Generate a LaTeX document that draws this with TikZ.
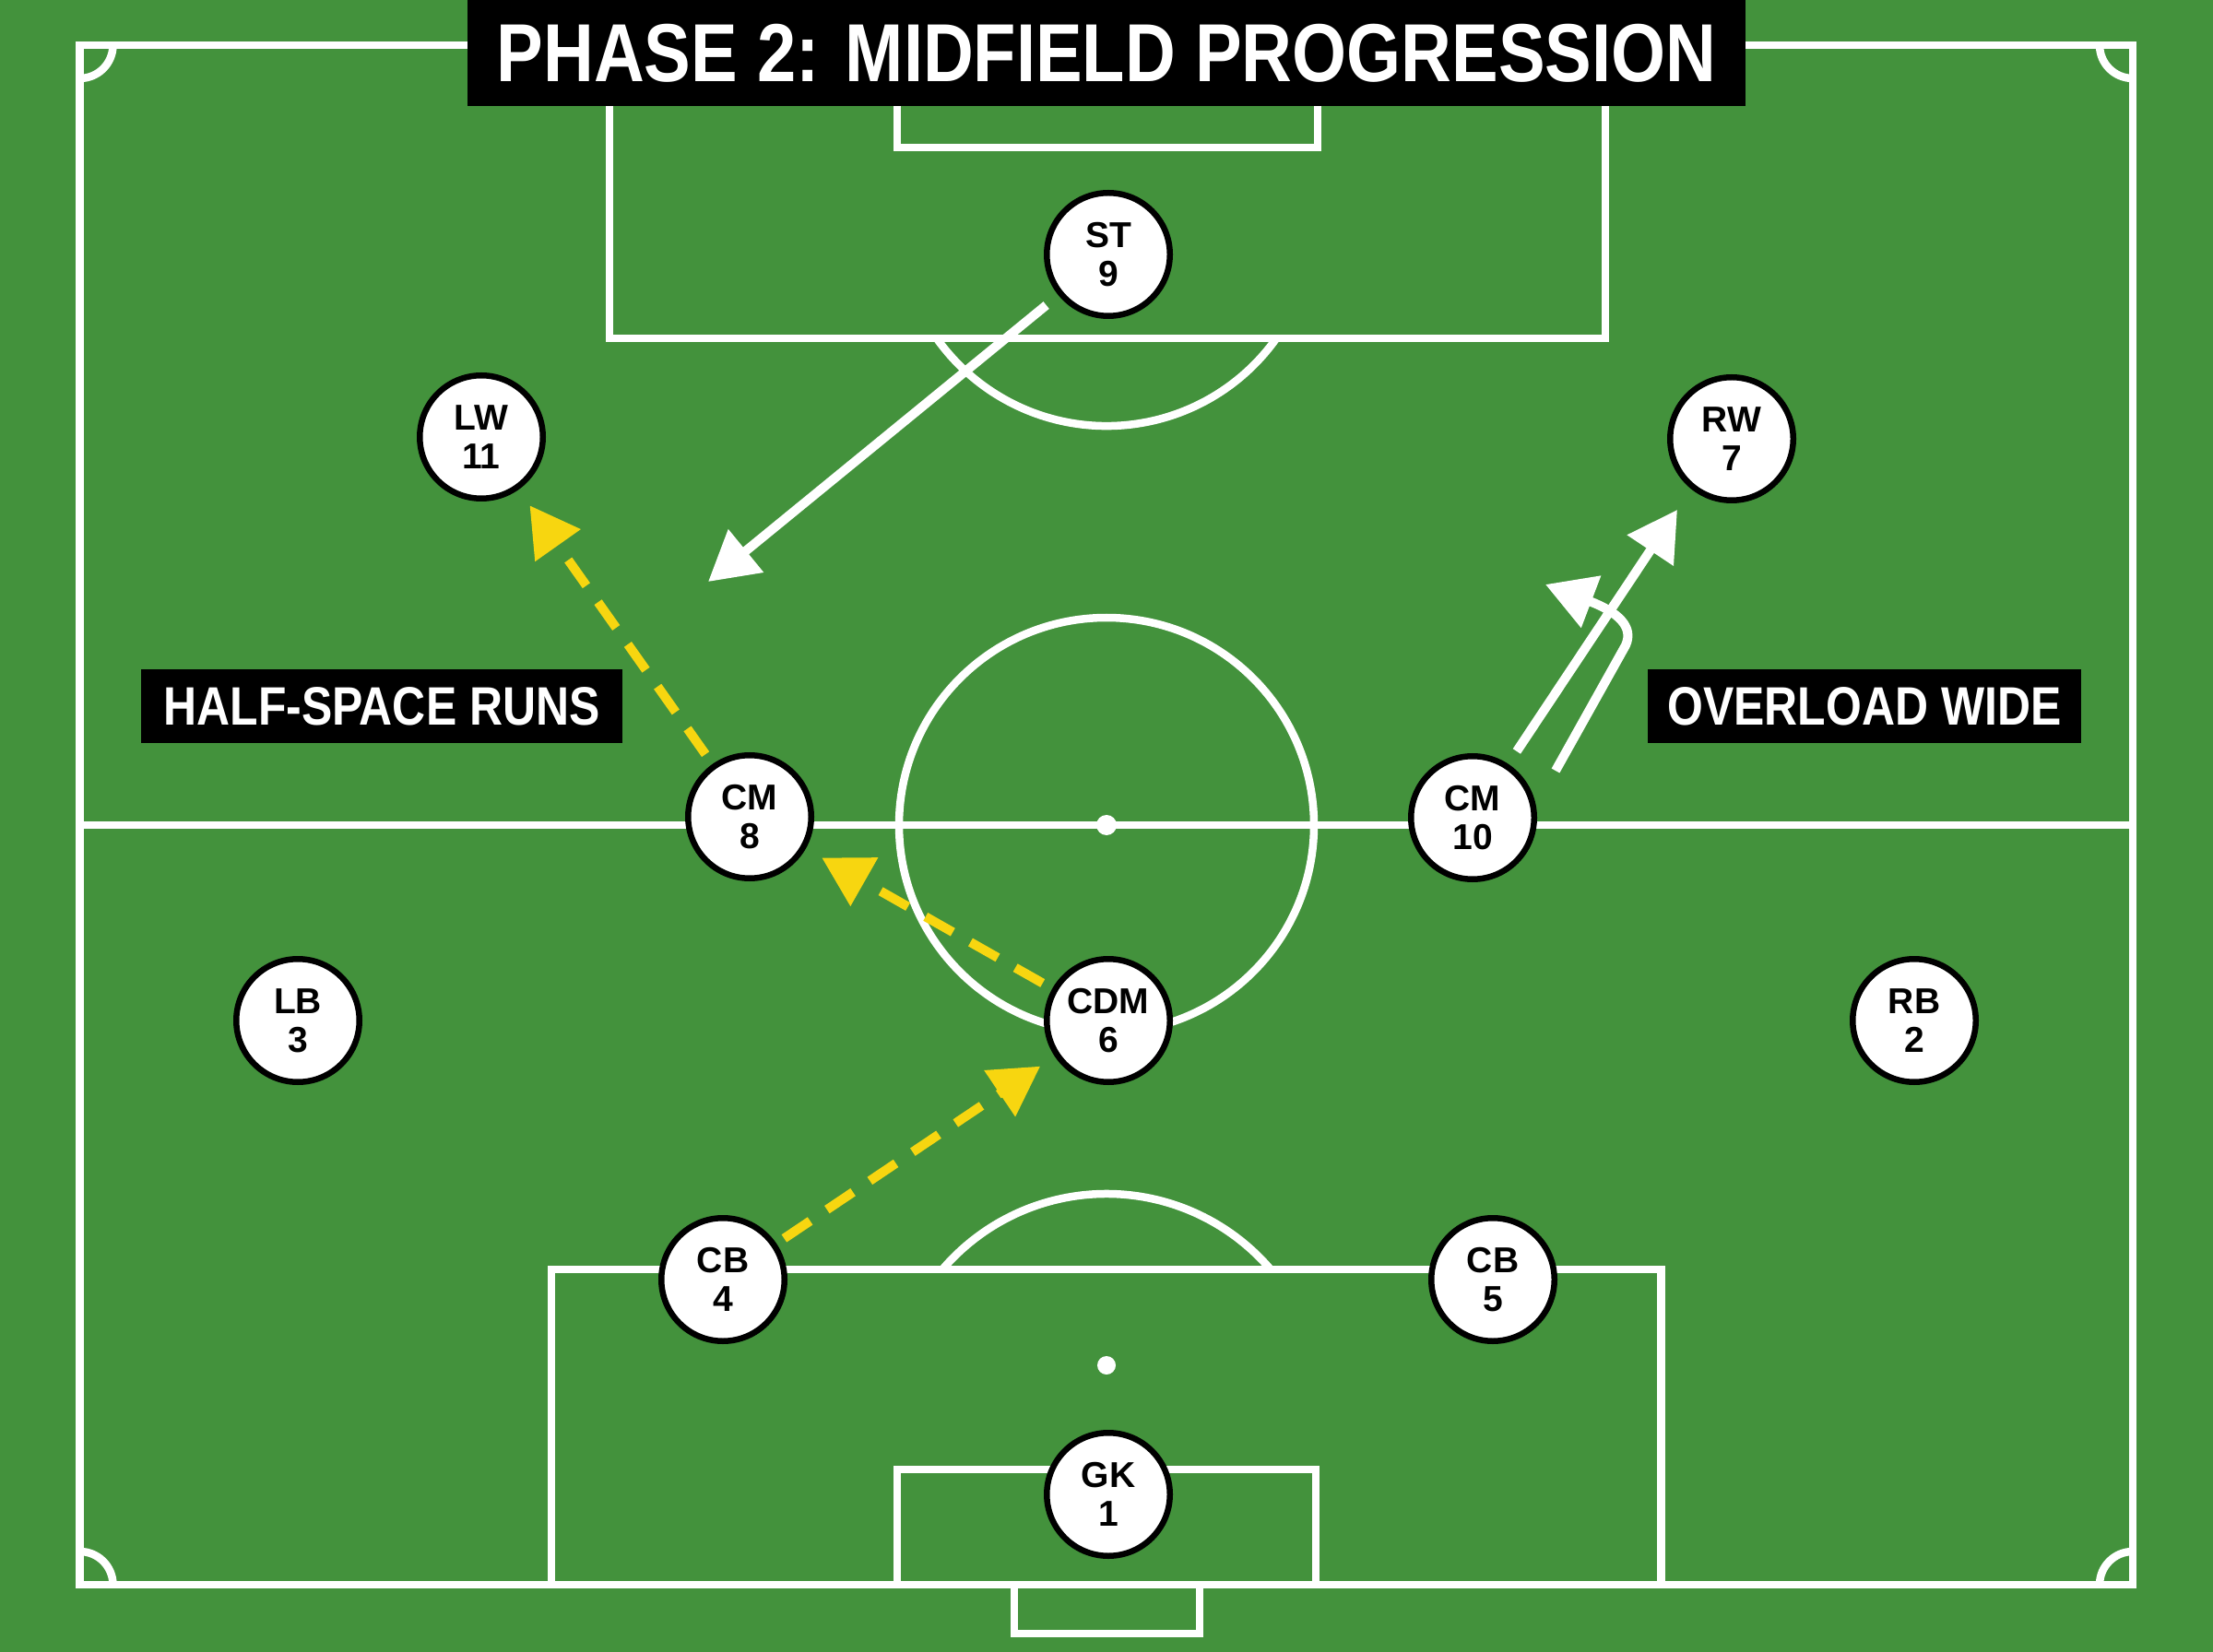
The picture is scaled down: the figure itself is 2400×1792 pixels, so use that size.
\documentclass[tikz,border=0pt]{standalone}
\usepackage{fontspec}
\setmainfont{Liberation Sans}
\newfontfamily\narrowfont{Liberation Sans}[FakeStretch=0.85]
\usepackage{tikz}
\usetikzlibrary{arrows.meta,positioning}
\definecolor{pitchgreen}{RGB}{67,146,60}
\definecolor{passyellow}{RGB}{247,214,16}

\begin{document}
\begin{tikzpicture}[x=0.1mm,y=-0.1mm,
    line/.style={draw=white, line width=0.85mm},
    player/.style={circle, draw=black, fill=white, line width=0.65mm, minimum size=13.35mm, inner sep=0pt, align=center, font=\fontsize{11.1}{12}\selectfont\bfseries},
    tag/.style={fill=black, text=white, inner sep=0pt, minimum height=8mm, font=\fontsize{16.7}{18}\selectfont\narrowfont\bfseries},
    pass/.style={draw=passyellow, line width=1mm, dash pattern=on 3.4mm off 2.2mm, -{Triangle[length=5.3mm,width=5.8mm]}},
    run/.style={draw=white, line width=1mm, -{Triangle[length=5.3mm,width=5.8mm]}}]
        \useasboundingbox (0,0) rectangle (2400,1792);
        \fill[pitchgreen] (0,0) rectangle (2400,1792);

        \draw[line] (86.5,49) rectangle (2313,1719);
        \draw[line] (86.5,895) -- (2313,895);
        \draw[line] (1200,895) circle[radius=22.5mm];
        \fill[white] (1200,895) circle[radius=1.1mm];
        \draw[line] (661,49) rectangle (1741,367);
        \draw[line] (973,49) rectangle (1429,160);
        \draw[line] (1015.8,367) arc[start angle=215.4, end angle=324.6, radius=22.6mm];
        \draw[line] (598,1377) rectangle (1801.5,1719);
        \draw[line] (973,1594) rectangle (1427,1719);
        \draw[line] (1100,1719) rectangle (1301,1772);
        \draw[line] (1377.9,1377) arc[start angle=40.5, end angle=139.5, radius=23.4mm];
        \fill[white] (1200,1481) circle[radius=1mm];
        \draw[line] (86.5,85) arc[start angle=270, end angle=360, radius=3.6mm];
        \draw[line] (2277,49) arc[start angle=180, end angle=270, radius=3.6mm];
        \draw[line] (122.5,1719) arc[start angle=0, end angle=90, radius=3.6mm];
        \draw[line] (2313,1683) arc[start angle=90, end angle=180, radius=3.6mm];

        \node [fill=black, text=white, minimum width=138.6mm, minimum height=11.5mm, inner sep=0pt,
            font=\fontsize{25.4}{28}\selectfont\narrowfont\bfseries] (title) at (1200,57.5) {PHASE 2: MIDFIELD PROGRESSION};
        \node [tag, minimum width=52.2mm] (halfspace) at (414,766) {HALF-SPACE RUNS};
        \node [tag, minimum width=47mm] (overload) at (2022,766) {OVERLOAD WIDE};

        \node [player] (st) at (1202,276) {ST\\9};
        \node [player] (lw) at (522,474) {LW\\11};
        \node [player] (rw) at (1878,476) {RW\\7};
        \node [player] (cm8) at (813,886) {CM\\8};
        \node [player] (cm10) at (1597,887) {CM\\10};
        \node [player] (lb) at (323,1107) {LB\\3};
        \node [player] (cdm) at (1202,1107) {CDM\\6};
        \node [player] (rb) at (2076,1107) {RB\\2};
        \node [player] (cb4) at (784,1388) {CB\\4};
        \node [player] (cb5) at (1619,1388) {CB\\5};
        \node [player] (gk) at (1202,1621) {GK\\1};

        \draw[pass, shorten <=1mm, shorten >=1.9mm] (cb4) -- (cdm);
        \draw[pass, shorten <=1.2mm, shorten >=2mm] (cdm) -- (cm8);
        \draw[pass, shorten <=1.3mm, shorten >=2.1mm] (cm8) -- (lw);

        \coordinate (stdrop) at (768,631);
        \coordinate (cm10run) at (1819,553);
        \coordinate (cm10hook) at (1676,634);
        \draw[run, shorten <=1.7mm] (st) -- (stdrop);
        \draw[run, shorten <=1.65mm] (cm10) -- (cm10run);
        \draw[run] ([shift={(20,-51)}]cm10.east) -- (1763,700) .. controls (1772,680) and (1755,664) .. (cm10hook);
\end{tikzpicture}
\end{document}
